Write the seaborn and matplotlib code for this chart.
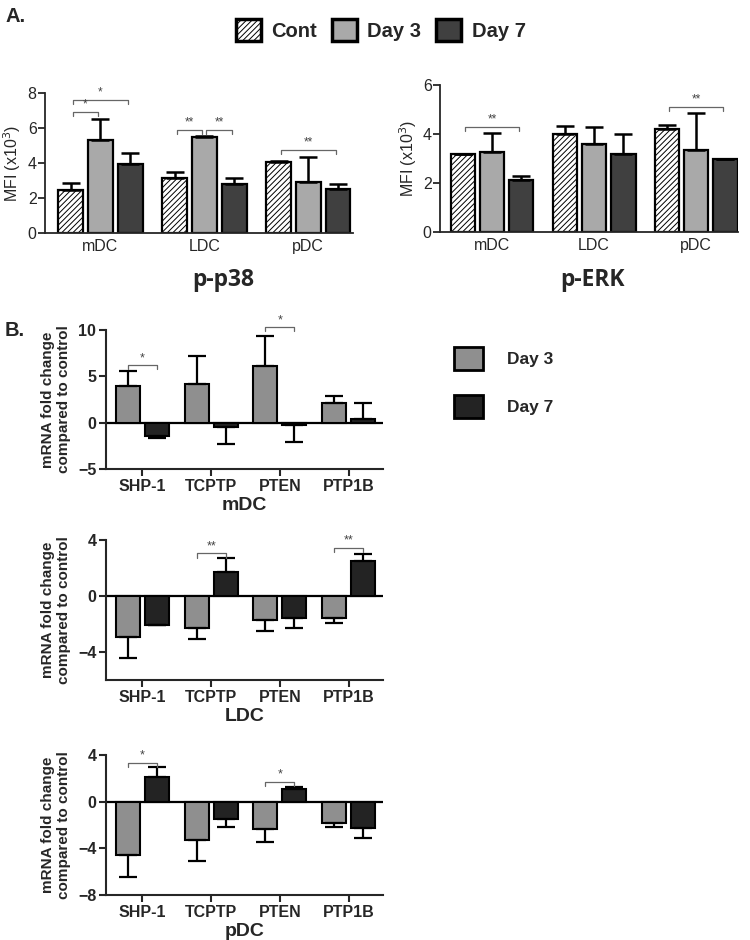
import numpy as np
import pandas as pd
import seaborn as sns
import matplotlib.pyplot as plt
from matplotlib.patches import Patch

sns.set_style('ticks')
plt.rcParams['font.family'] = ['Liberation Sans', 'DejaVu Sans']
plt.rcParams['hatch.linewidth'] = 0.7

# ---- panel A : phospho flow, MFI (x10^3), mean and SEM ----
cells = ['mDC', 'LDC', 'pDC']
groups_a = ['Cont', 'Day 3', 'Day 7']

p38_cont = [2.46, 3.17, 4.06]
p38_day3 = [5.31, 5.46, 2.94]
p38_day7 = [3.94, 2.82, 2.50]
p38_cont_err = [0.38, 0.34, 0.05]
p38_day3_err = [1.21, 0.08, 1.42]
p38_day7_err = [0.65, 0.31, 0.29]

erk_cont = [3.18, 3.99, 4.21]
erk_day3 = [3.26, 3.58, 3.34]
erk_day7 = [2.13, 3.19, 2.96]
erk_cont_err = [0.0, 0.34, 0.16]
erk_day3_err = [0.77, 0.70, 1.51]
erk_day7_err = [0.14, 0.80, 0.0]

# ---- panel B : mRNA fold change vs control ----
genes = ['SHP-1', 'TCPTP', 'PTEN', 'PTP1B']
groups_b = ['Day 3', 'Day 7']

mdc_day3 = [3.96, 4.17, 6.12, 2.09]
mdc_day7 = [-1.44, -0.50, -0.25, 0.40]
mdc_day3_err = [1.64, 3.02, 3.23, 0.79]
mdc_day7_err = [0.26, 1.84, 1.85, 1.76]

ldc_day3 = [-2.90, -2.26, -1.74, -1.60]
ldc_day7 = [-2.07, 1.69, -1.55, 2.50]
ldc_day3_err = [1.53, 0.79, 0.76, 0.30]
ldc_day7_err = [0.03, 1.00, 0.71, 0.48]

pdc_day3 = [-4.60, -3.29, -2.37, -1.86]
pdc_day7 = [2.14, -1.51, 1.11, -2.23]
pdc_day3_err = [1.83, 1.80, 1.06, 0.28]
pdc_day7_err = [0.80, 0.63, 0.18, 0.86]

# significance brackets: (category, hue i, hue j, height, label)
p38_sig = [(0, 0, 1, 6.93, '*'), (0, 0, 2, 7.6, '*'), (1, 0, 1, 5.88, '**'),
           (1, 1, 2, 5.88, '**'), (2, 0, 2, 4.74, '**')]
erk_sig = [(0, 0, 2, 4.28, '**'), (2, 0, 2, 5.12, '**')]
mdc_sig = [(0, 0, 1, 6.2, '*'), (2, 0, 1, 10.3, '*')]
ldc_sig = [(1, 0, 1, 3.05, '**'), (3, 0, 1, 3.45, '**')]
pdc_sig = [(0, 0, 1, 3.34, '*'), (2, 0, 1, 1.71, '*')]

pal_a = {'Cont': 'white', 'Day 3': '#a9a9a9', 'Day 7': '#404040'}
pal_b = {'Day 3': '#8f8f8f', 'Day 7': '#232323'}


def long_df(cats, groups, values):
    return pd.DataFrame({'cat': cats * len(groups),
                         'group': np.repeat(groups, len(cats)),
                         'val': sum(values, [])})


def add_errors(ax, errs, lw):
    # one-sided error bars, pointing away from zero (Prism style)
    for cont, err in zip(ax.containers, errs):
        for bar, e in zip(cont, err):
            xc = bar.get_x() + bar.get_width() / 2
            h = bar.get_height()
            yerr = [[0], [e]] if h >= 0 else [[e], [0]]
            ax.errorbar([xc], [h], yerr=yerr, fmt='none', ecolor='black',
                        elinewidth=lw, capsize=6.5, capthick=lw, zorder=1)


def add_sig(ax, sigs, tick, fs=8, shrink=0.0):
    for cat, i, j, y, lab in sigs:
        b1 = ax.containers[i][cat]
        b2 = ax.containers[j][cat]
        x1 = b1.get_x() + b1.get_width() / 2 + shrink
        x2 = b2.get_x() + b2.get_width() / 2 - shrink
        ax.plot([x1, x1, x2, x2], [y - tick, y, y, y - tick], color='#666666',
                lw=0.9, clip_on=False)
        ax.text((x1 + x2) / 2, y + tick * 0.3, lab, ha='center', va='bottom',
                fontsize=fs, color='#444444', clip_on=False)


fig = plt.figure(figsize=(7.5, 9.4), dpi=100)
W, H = 750.0, 940.0


def px_axes(x0, x1, ytop, ybot):
    return fig.add_axes([x0 / W, 1 - ybot / H, (x1 - x0) / W, (ybot - ytop) / H])


# ---------- panel A ----------
panels_a = [
    (px_axes(45, 353, 93, 233), [p38_cont, p38_day3, p38_day7],
     [p38_cont_err, p38_day3_err, p38_day7_err], p38_sig, (0, 8), [0, 2, 4, 6, 8],
     (-0.533, 2.43), 'p-p38', 223),
    (px_axes(440, 738, 85, 232), [erk_cont, erk_day3, erk_day7],
     [erk_cont_err, erk_day3_err, erk_day7_err], erk_sig, (0, 6), [0, 2, 4, 6],
     (-0.51, 2.41), 'p-ERK', 593),
]
for ax, vals, errs, sigs, ylim, yt, xlim, title, tx in panels_a:
    df = long_df(cells, groups_a, vals)
    sns.barplot(data=df, x='cat', y='val', hue='group', order=cells,
                hue_order=groups_a, palette=pal_a, width=0.857, gap=0.16,
                edgecolor='black', linewidth=1.6, errorbar=None, legend=False,
                saturation=1, ax=ax)
    for bar in ax.containers[0]:
        bar.set_hatch('//////')
    add_errors(ax, errs, 1.8)
    add_sig(ax, sigs, (ylim[1] - ylim[0]) * 0.028, fs=8.5, shrink=0.02)
    ax.set_ylim(*ylim)
    ax.set_yticks(yt)
    ax.set_xlim(*xlim)
    ax.set_xlabel('')
    ax.set_ylabel('MFI (x10$^3$)', fontsize=11.5)
    ax.yaxis.set_label_coords(-0.07, 0.5)
    sns.despine(ax=ax)
    ax.spines['left'].set_linewidth(1.3)
    ax.spines['bottom'].set_linewidth(1.3)
    ax.tick_params(axis='y', length=5, width=1.3, labelsize=11.5, pad=1)
    ax.tick_params(axis='x', length=0, labelsize=11.5, pad=4)
    fig.text(tx / W, 1 - 280 / H, title, ha='center', va='center',
             fontsize=16.5, fontweight='bold', family=['Open Sans', 'DejaVu Sans'])

fig.legend(handles=[Patch(facecolor=pal_a[g], edgecolor='black', linewidth=2.5,
                          hatch='//////' if g == 'Cont' else None) for g in groups_a],
           labels=groups_a, loc='center left', bbox_to_anchor=(236 / W, 1 - 30 / H),
           ncol=3, frameon=False, prop={'weight': 'bold', 'size': 14.5},
           handlelength=1.25, handleheight=1.25, handletextpad=0.5,
           columnspacing=0.75, borderpad=0, borderaxespad=0)

# ---------- panel B ----------
panels_b = [
    (px_axes(106, 383, 330, 469), [mdc_day3, mdc_day7], [mdc_day3_err, mdc_day7_err],
     mdc_sig, (-5, 10), [-5, 0, 5, 10], 'mDC'),
    (px_axes(106, 383, 540, 680), [ldc_day3, ldc_day7], [ldc_day3_err, ldc_day7_err],
     ldc_sig, (-6, 4), [-4, 0, 4], 'LDC'),
    (px_axes(106, 383, 755, 895), [pdc_day3, pdc_day7], [pdc_day3_err, pdc_day7_err],
     pdc_sig, (-8, 4), [-8, -4, 0, 4], 'pDC'),
]
for ax, vals, errs, sigs, ylim, yt, name in panels_b:
    df = long_df(genes, groups_b, vals)
    ax.axhline(0, color='black', lw=1.6, zorder=0)
    sns.barplot(data=df, x='cat', y='val', hue='group', order=genes,
                hue_order=groups_b, palette=pal_b, width=0.84, gap=0.17,
                edgecolor='black', linewidth=1.5, errorbar=None, legend=False,
                saturation=1, ax=ax)
    add_errors(ax, errs, 1.6)
    add_sig(ax, sigs, (ylim[1] - ylim[0]) * 0.03, fs=9)
    ax.set_ylim(*ylim)
    ax.set_yticks(yt)
    ax.set_xlim(-0.53, 3.5)
    ax.set_xlabel(name, fontsize=14, fontweight='bold')
    ax.xaxis.set_label_coords(0.5, -0.2)
    ax.set_ylabel('mRNA fold change\ncompared to control', fontsize=11,
                  fontweight='bold', linespacing=1.2)
    ax.yaxis.set_label_coords(-0.125, 0.5)
    sns.despine(ax=ax)
    ax.spines['left'].set_linewidth(1.5)
    ax.spines['bottom'].set_linewidth(1.5)
    ax.tick_params(axis='both', length=5, width=1.5, labelsize=11.5, pad=2)
    for lab in ax.get_xticklabels() + ax.get_yticklabels():
        lab.set_fontweight('bold')

fig.legend(handles=[Patch(facecolor=pal_b[g], edgecolor='black', linewidth=2)
                    for g in groups_b],
           labels=groups_b, loc='upper left', bbox_to_anchor=(454 / W, 1 - 347 / H),
           ncol=1, frameon=False, prop={'weight': 'bold', 'size': 12.5},
           handlelength=1.65, handleheight=1.65, handletextpad=1.4,
           labelspacing=1.45, borderpad=0, borderaxespad=0)

fig.text(5 / W, 1 - 16 / H, 'A.', fontsize=14.5, fontweight='bold', va='center')
fig.text(5 / W, 1 - 330 / H, 'B.', fontsize=14.5, fontweight='bold', va='center')

fig.savefig('out.png', dpi=100)
